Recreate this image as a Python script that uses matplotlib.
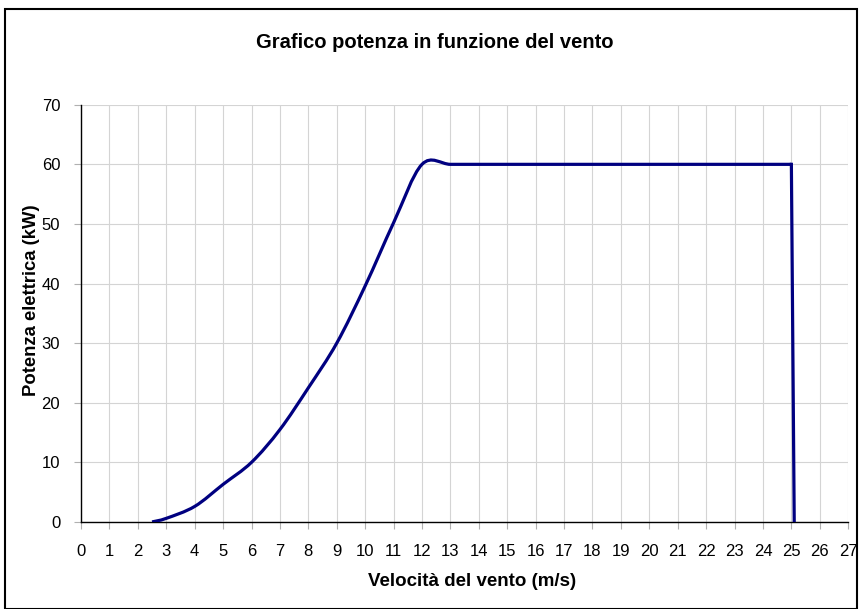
import numpy as np
import matplotlib.pyplot as plt
from matplotlib.path import Path
from matplotlib.patches import PathPatch, Rectangle

plt.rcParams['font.family'] = ['Liberation Sans', 'DejaVu Sans']

### Data (wind speed m/s, power kW)
vento = [2.5, 3, 4, 5, 6, 7, 8, 9, 10, 11, 12, 13, 14, 15, 16, 17, 18,
         19, 20, 21, 22, 23, 24, 25]
potenza = [0, 0.6, 2.6, 6.3, 10, 15.5, 22.5, 30, 39.6, 50.2, 60, 60, 60,
           60, 60, 60, 60, 60, 60, 60, 60, 60, 60, 60]
# cut-out: drop to zero just after 25 m/s
vento_stop = [25, 25.1]
potenza_stop = [60, 0]

x_ticks = list(range(0, 28))
y_ticks = [0, 10, 20, 30, 40, 50, 60, 70]


def smooth_path(xs, ys):
    """Excel-like smoothed line: cubic Bezier through each point."""
    pts = np.column_stack([xs, ys]).astype(float)
    n = len(pts)
    verts = [pts[0]]
    codes = [Path.MOVETO]
    for i in range(n - 1):
        p_prev = pts[i - 1] if i > 0 else pts[i]
        p_next2 = pts[i + 2] if i + 2 < n else pts[i + 1]
        c1 = pts[i] + (pts[i + 1] - p_prev) / 6
        c2 = pts[i + 1] - (p_next2 - pts[i]) / 6
        verts += [c1, c2, pts[i + 1]]
        codes += [Path.CURVE4] * 3
    return Path(verts, codes)


fig = plt.figure(figsize=(8.62, 6.09), dpi=100)
ax = fig.add_axes([0.094, 0.143, 0.890, 0.685])

ax.add_patch(PathPatch(smooth_path(vento, potenza), facecolor='none',
                       edgecolor='#000080', lw=2.3, capstyle='butt',
                       joinstyle='miter', zorder=3))
ax.plot(vento_stop, potenza_stop, color='#000080', lw=2.3, zorder=3,
        solid_joinstyle='miter')

ax.set_xlim(0, 27)
ax.set_ylim(0, 70)
ax.set_xticks(x_ticks)
ax.set_yticks(y_ticks)
ax.tick_params(axis='both', labelsize=12, length=5, color='#b0b0b0',
               width=0.8)
ax.tick_params(axis='x', pad=11)
ax.tick_params(axis='y', pad=10)
ax.grid(True, color='#d4d4d4', lw=0.8)
ax.set_axisbelow(True)
for s in ['top', 'right']:
    ax.spines[s].set_visible(False)
for s in ['left', 'bottom']:
    ax.spines[s].set_color('black')
    ax.spines[s].set_linewidth(1.0)

ax.set_xlabel('Velocità del vento (m/s)', fontsize=13.5, fontweight='bold',
              va='center')
ax.xaxis.set_label_coords(0.51, -0.144)
ax.set_ylabel('Potenza elettrica (kW)', fontsize=13.3, fontweight='bold',
              va='center')
ax.yaxis.set_label_coords(-0.064, 0.532)
fig.text(0.504, 0.931, 'Grafico potenza in funzione del vento', fontsize=14.5,
         fontweight='bold', ha='center', va='center')

### outer chart border
fig.patches.append(Rectangle((0.006, 0.0), 0.988, 0.986, transform=fig.transFigure,
                             fill=False, edgecolor='black', lw=1.5))

fig.savefig('out.png', dpi=100)
